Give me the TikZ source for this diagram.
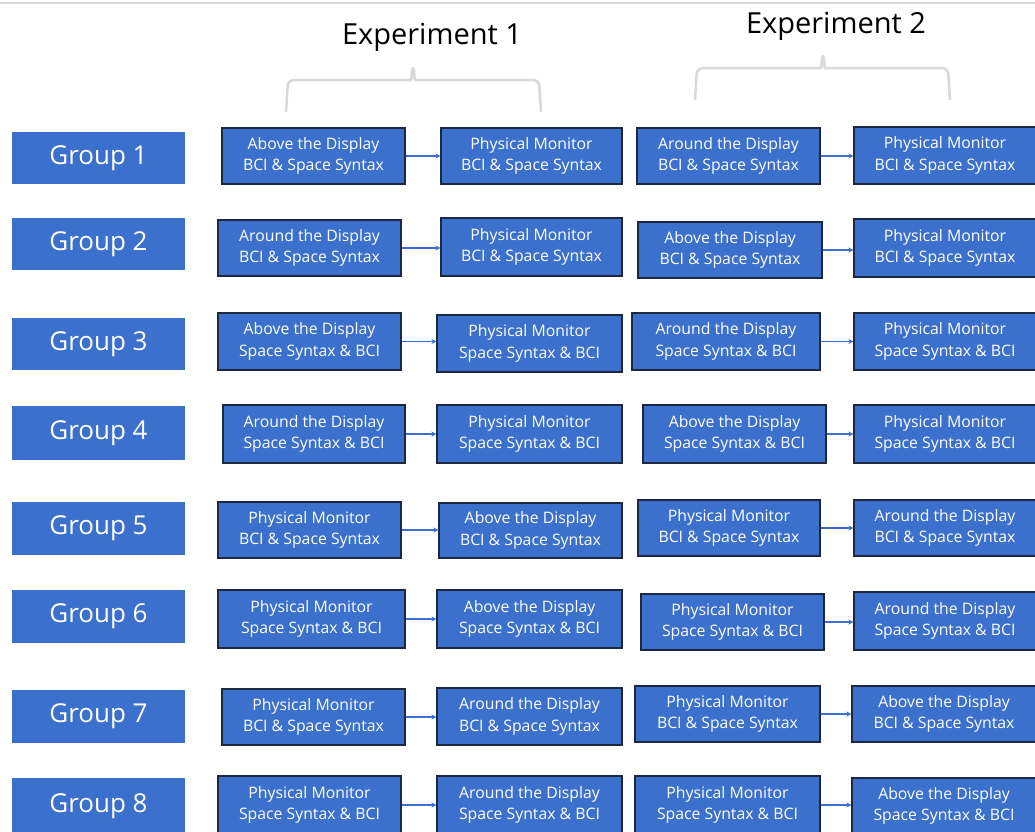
\documentclass[tikz,border=0pt]{standalone}
\usepackage{fontspec}
\setmainfont{Open Sans}
\usetikzlibrary{arrows.meta}
\definecolor{boxblue}{HTML}{3B70CD}
\definecolor{edge}{HTML}{1B2840}
\definecolor{brace}{HTML}{D9D9D9}
\definecolor{lineblue}{HTML}{3A6FD0}
\tikzset{
  box/.style={draw=edge, line width=1.1pt, fill=boxblue, text=white, inner sep=0pt, align=center, font=\fontsize{15.8}{21.5}\selectfont},
  grp/.style={fill=boxblue, text=white, inner sep=0pt, font=\fontsize{26}{30}\selectfont},
  conn/.style={draw=lineblue, line width=1.4pt, -{Stealth[length=5pt,width=5pt]}},
  bracestyle/.style={draw=brace, line width=2.5pt, rounded corners=6pt},
  exptitle/.style={font=\fontsize{29}{32}\selectfont, inner sep=0pt}
}
\newcommand{\bx}[7]{\node[box, minimum width={(#3-#2)*1pt}, minimum height={(#5-#4)*1pt}] (#1) at ({(#2+#3)/2},{-(#4+#5)/2}) {#6\\#7};}
\newcommand{\gp}[4]{\node[grp, minimum width=173pt, minimum height={(#3-#2)*1pt}] (#1) at (98.5,{-(#2+#3)/2}) {#4};}
\begin{document}
\begin{tikzpicture}[x=1pt,y=1pt]
\useasboundingbox (0,0) rectangle (1035,-831);
\fill[white] (0,0) rectangle (1035,-831);
\draw[brace, line width=2pt] (0,-3) -- (1035,-3);
% titles
\node[exptitle] (exp1) at (432,-37) {Experiment 1};
\node[exptitle] (exp2) at (836,-26) {Experiment 2};
% braces
\draw[bracestyle] (286,-112) -- (288,-80) -- (405,-80) to[out=0,in=-100] (413,-65) to[out=-80,in=180] (421,-80) -- (539,-80) -- (541,-112);
\draw[bracestyle] (695,-100) -- (697,-68) -- (815,-68) to[out=0,in=-100] (823,-53) to[out=-80,in=180] (831,-68) -- (948,-68) -- (950,-100);
% groups
\gp{g1}{132}{184}{Group 1}
\gp{g2}{218}{270}{Group 2}
\gp{g3}{318}{370}{Group 3}
\gp{g4}{406}{460}{Group 4}
\gp{g5}{502}{555}{Group 5}
\gp{g6}{590}{643}{Group 6}
\gp{g7}{690}{743}{Group 7}
\gp{g8}{778}{834}{Group 8}
% row 1
\bx{a1}{222}{405}{128}{184}{Above the Display}{BCI \& Space Syntax}
\bx{b1}{441}{622}{128}{184}{Physical Monitor}{BCI \& Space Syntax}
\bx{c1}{637}{820}{128}{184}{Around the Display}{BCI \& Space Syntax}
\bx{d1}{854}{1036}{127}{184}{Physical Monitor}{BCI \& Space Syntax}
% row 2
\bx{a2}{218}{401}{220}{276}{Around the Display}{BCI \& Space Syntax}
\bx{b2}{441}{622}{218}{276}{Physical Monitor}{BCI \& Space Syntax}
\bx{c2}{638}{822}{222}{278}{Above the Display}{BCI \& Space Syntax}
\bx{d2}{854}{1036}{219}{277}{Physical Monitor}{BCI \& Space Syntax}
% row 3
\bx{a3}{218}{401}{313}{370}{Above the Display}{Space Syntax \& BCI}
\bx{b3}{437}{622}{315}{372}{Physical Monitor}{Space Syntax \& BCI}
\bx{c3}{632}{820}{313}{370}{Around the Display}{Space Syntax \& BCI}
\bx{d3}{854}{1036}{313}{370}{Physical Monitor}{Space Syntax \& BCI}
% row 4
\bx{a4}{223}{405}{405}{463}{Around the Display}{Space Syntax \& BCI}
\bx{b4}{437}{622}{405}{463}{Physical Monitor}{Space Syntax \& BCI}
\bx{c4}{643}{826}{405}{463}{Above the Display}{Space Syntax \& BCI}
\bx{d4}{854}{1036}{405}{463}{Physical Monitor}{Space Syntax \& BCI}
% row 5
\bx{a5}{218}{401}{502}{558}{Physical Monitor}{BCI \& Space Syntax}
\bx{b5}{439}{622}{503}{558}{Above the Display}{BCI \& Space Syntax}
\bx{c5}{638}{820}{500}{556}{Physical Monitor}{BCI \& Space Syntax}
\bx{d5}{854}{1036}{500}{556}{Around the Display}{BCI \& Space Syntax}
% row 6
\bx{a6}{218}{405}{590}{648}{Physical Monitor}{Space Syntax \& BCI}
\bx{b6}{437}{622}{590}{648}{Above the Display}{Space Syntax \& BCI}
\bx{c6}{641}{824}{594}{650}{Physical Monitor}{Space Syntax \& BCI}
\bx{d6}{854}{1036}{592}{650}{Around the Display}{Space Syntax \& BCI}
% row 7
\bx{a7}{222}{405}{689}{745}{Physical Monitor}{BCI \& Space Syntax}
\bx{b7}{437}{622}{688}{745}{Around the Display}{BCI \& Space Syntax}
\bx{c7}{635}{820}{686}{742}{Physical Monitor}{BCI \& Space Syntax}
\bx{d7}{852}{1036}{686}{742}{Above the Display}{BCI \& Space Syntax}
% row 8
\bx{a8}{218}{401}{776}{834}{Physical Monitor}{Space Syntax \& BCI}
\bx{b8}{437}{622}{776}{834}{Around the Display}{Space Syntax \& BCI}
\bx{c8}{635}{820}{776}{834}{Physical Monitor}{Space Syntax \& BCI}
\bx{d8}{852}{1036}{778}{834}{Above the Display}{Space Syntax \& BCI}
% connectors
\foreach \i in {1,...,8}{
  \draw[conn] (a\i.east) -- (b\i.west |- a\i.east);
  \draw[conn] (c\i.east) -- (d\i.west |- c\i.east);
}
\end{tikzpicture}
\end{document}
